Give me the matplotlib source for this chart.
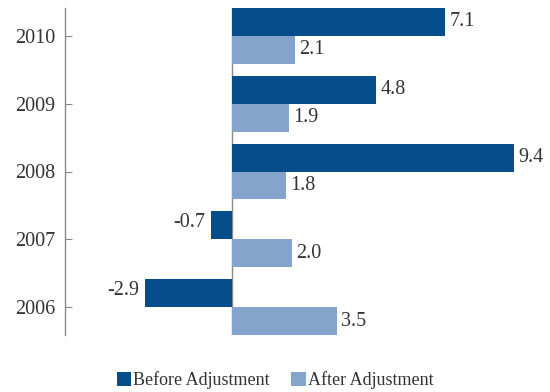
import matplotlib
matplotlib.use("Agg")
import matplotlib.pyplot as plt
import numpy as np

years = ["2006", "2007", "2008", "2009", "2010"]
before = [-2.9, -0.7, 9.4, 4.8, 7.1]
after = [3.5, 2.0, 1.8, 1.9, 2.1]

dark = "#064e8b"
light = "#85a4cc"
text_col = "#333333"
axis_col = "#8a8a8a"

plt.rcParams["font.family"] = ["Liberation Serif", "DejaVu Serif"]

fig = plt.figure(figsize=(5.5, 3.92), dpi=100)
ax = fig.add_axes([65 / 550, 57 / 392, 485 / 550, 327 / 392])

y = np.arange(len(years))
h = 0.413
b1 = ax.barh(y + h / 2, before, height=h, color=dark, label="Before Adjustment")
b2 = ax.barh(y - h / 2, after, height=h, color=light, label="After Adjustment")

# value labels at bar ends
for bars, vals in ((b1, before), (b2, after)):
    for bar, v in zip(bars, vals):
        yc = bar.get_y() + bar.get_height() / 2
        if v >= 0:
            ax.annotate(f"{v:.1f}", (v, yc), xytext=(3, 0), textcoords="offset points",
                        ha="left", va="center", fontsize=14.5, color=text_col)
        else:
            ax.annotate(f"{v:.1f}", (v, yc), xytext=(-4, 2), textcoords="offset points",
                        ha="right", va="center", fontsize=14.5, color=text_col)

ax.axvline(0, color=axis_col, lw=1.0, zorder=0)

ax.set_xlim(-5.57, 10.6)
ax.set_ylim(-0.413, len(years) - 1 + 0.413)
ax.set_yticks(y)
ax.set_yticklabels(years, fontsize=14.5, color=text_col)
ax.set_xticks([])
for side in ("top", "right", "bottom"):
    ax.spines[side].set_visible(False)
ax.spines["left"].set_color(axis_col)
ax.spines["left"].set_linewidth(1.0)
ax.tick_params(axis="y", direction="in", length=5, color=axis_col, pad=7)

fig.legend(handles=[b1, b2], loc="lower center", bbox_to_anchor=(0.5, -0.035), ncol=2,
           frameon=False, fontsize=13, handlelength=0.8, handleheight=0.8,
           handletextpad=0.1, columnspacing=1.2, labelcolor=text_col)

fig.savefig("out.png", dpi=100)
